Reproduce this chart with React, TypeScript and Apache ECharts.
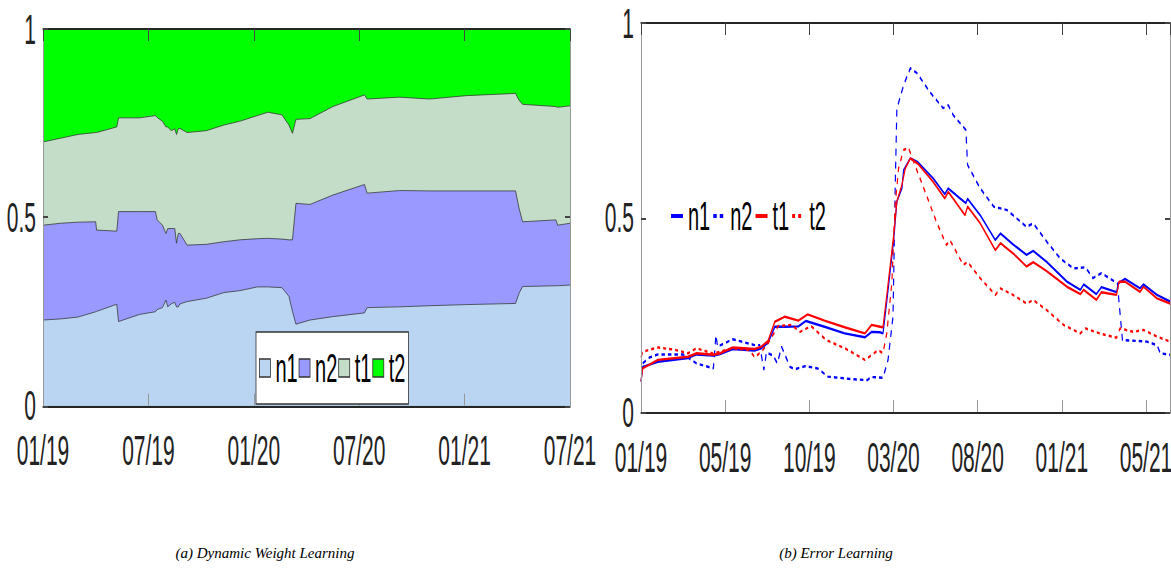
import React, { useEffect, useRef } from 'react';
import * as echarts from 'echarts';

// ---------- (a) Dynamic Weight Learning ----------
const leftTickLabels = ['01/19', '07/19', '01/20', '07/20', '01/21', '07/21'];
// months since 01/19
const leftMonths = [0, 1, 2, 3, 3.05, 4.2, 4.3, 5.5, 6.4, 6.5, 6.8, 7.0, 7.1, 7.3, 7.5, 7.6, 7.7, 7.8, 8.2, 9.3, 10.3, 11.2, 12.2, 12.8, 13.6, 14.0, 14.2, 14.4, 15.2, 16.5, 18.3, 18.45, 20.3, 22, 24.1, 26.9, 27.1, 27.3, 29.2, 29.3, 30];
// cumulative upper edges of each band
const n1Upper = [0.227, 0.23, 0.235, 0.249, 0.25, 0.269, 0.223, 0.242, 0.249, 0.255, 0.26, 0.28, 0.262, 0.27, 0.274, 0.262, 0.262, 0.27, 0.276, 0.285, 0.3, 0.305, 0.315, 0.315, 0.313, 0.29, 0.25, 0.216, 0.227, 0.236, 0.246, 0.26, 0.262, 0.265, 0.268, 0.271, 0.298, 0.316, 0.318, 0.318, 0.32];
const n2Upper = [0.479, 0.484, 0.487, 0.488, 0.466, 0.463, 0.515, 0.515, 0.515, 0.493, 0.479, 0.457, 0.47, 0.47, 0.47, 0.431, 0.457, 0.457, 0.426, 0.428, 0.435, 0.44, 0.443, 0.444, 0.442, 0.44, 0.44, 0.537, 0.534, 0.559, 0.587, 0.564, 0.571, 0.57, 0.57, 0.57, 0.524, 0.488, 0.493, 0.479, 0.484];
const t1Upper = [0.70, 0.71, 0.72, 0.725, 0.725, 0.74, 0.764, 0.764, 0.77, 0.765, 0.755, 0.74, 0.74, 0.73, 0.735, 0.72, 0.735, 0.736, 0.725, 0.73, 0.745, 0.755, 0.77, 0.779, 0.772, 0.745, 0.723, 0.76, 0.762, 0.794, 0.825, 0.814, 0.819, 0.814, 0.823, 0.829, 0.811, 0.80, 0.794, 0.792, 0.796];
const totalWeight = 1; // t2 band always reaches the total

const weightNames = ['n1', 'n2', 't1', 't2'];
const weightColors = ['#BAD5F2', '#9999FF', '#C3DDC8', '#00FF00'];

// ---------- (b) Error Learning ----------
const rightTickLabels = ['01/19', '05/19', '10/19', '03/20', '08/20', '01/21', '05/21'];
const rightMax = 6.285; // in tick units
const n1Err = [[0.0, 0.078], [0.02, 0.116], [0.2, 0.129], [0.56, 0.139], [0.66, 0.148], [0.86, 0.145], [0.94, 0.149], [1.09, 0.162], [1.35, 0.158], [1.43, 0.164], [1.51, 0.178], [1.59, 0.219], [1.71, 0.219], [1.87, 0.22], [1.96, 0.234], [2.18, 0.219], [2.42, 0.202], [2.66, 0.192], [2.74, 0.206], [2.84, 0.205], [2.875, 0.202], [2.92, 0.284], [3.0, 0.438], [3.04, 0.541], [3.1, 0.575], [3.12, 0.622], [3.2, 0.652], [3.29, 0.642], [3.47, 0.601], [3.61, 0.56], [3.65, 0.575], [3.79, 0.549], [3.86, 0.537], [3.88, 0.548], [4.03, 0.506], [4.21, 0.442], [4.27, 0.459], [4.42, 0.431], [4.58, 0.404], [4.66, 0.414], [4.82, 0.386], [5.06, 0.335], [5.22, 0.314], [5.26, 0.328], [5.41, 0.303], [5.47, 0.321], [5.65, 0.308], [5.67, 0.331], [5.75, 0.342], [5.93, 0.318], [5.97, 0.328], [6.13, 0.301], [6.285, 0.284]];
const n2Err = [[0.02, 0.125], [0.1, 0.14], [0.2, 0.148], [0.5, 0.148], [0.66, 0.125], [0.86, 0.112], [0.89, 0.198], [0.91, 0.168], [1.09, 0.187], [1.35, 0.172], [1.41, 0.172], [1.46, 0.108], [1.49, 0.153], [1.57, 0.145], [1.62, 0.125], [1.67, 0.168], [1.77, 0.116], [1.83, 0.11], [1.95, 0.118], [2.1, 0.112], [2.22, 0.091], [2.53, 0.084], [2.69, 0.082], [2.73, 0.09], [2.875, 0.088], [2.935, 0.134], [2.994, 0.245], [3.02, 0.575], [3.04, 0.78], [3.12, 0.84], [3.2, 0.884], [3.28, 0.871], [3.43, 0.823], [3.59, 0.781], [3.65, 0.789], [3.71, 0.763], [3.86, 0.725], [3.88, 0.635], [4.03, 0.575], [4.19, 0.528], [4.35, 0.519], [4.58, 0.476], [4.66, 0.485], [4.82, 0.438], [4.98, 0.395], [5.14, 0.369], [5.28, 0.372], [5.37, 0.344], [5.47, 0.357], [5.63, 0.335], [5.66, 0.33], [5.72, 0.185], [6.01, 0.181], [6.13, 0.172], [6.17, 0.151], [6.285, 0.147]];
const t1Err = [[0.0, 0.078], [0.02, 0.112], [0.2, 0.134], [0.56, 0.142], [0.66, 0.151], [0.86, 0.147], [0.94, 0.151], [1.09, 0.166], [1.35, 0.162], [1.43, 0.168], [1.51, 0.183], [1.59, 0.232], [1.71, 0.245], [1.87, 0.235], [1.98, 0.251], [2.18, 0.235], [2.42, 0.218], [2.66, 0.202], [2.74, 0.224], [2.84, 0.219], [2.875, 0.218], [2.92, 0.30], [3.0, 0.451], [3.04, 0.541], [3.1, 0.584], [3.14, 0.626], [3.2, 0.652], [3.29, 0.638], [3.47, 0.592], [3.61, 0.549], [3.65, 0.566], [3.85, 0.506], [3.88, 0.528], [4.03, 0.485], [4.21, 0.416], [4.27, 0.434], [4.42, 0.408], [4.58, 0.374], [4.66, 0.385], [4.82, 0.362], [5.06, 0.322], [5.22, 0.303], [5.26, 0.314], [5.41, 0.288], [5.47, 0.308], [5.65, 0.301], [5.68, 0.335], [5.75, 0.335], [5.93, 0.309], [5.97, 0.322], [6.13, 0.292], [6.285, 0.279]];
const t2Err = [[0.0, 0.14], [0.02, 0.155], [0.2, 0.166], [0.4, 0.16], [0.56, 0.151], [0.66, 0.164], [0.86, 0.15], [1.09, 0.164], [1.29, 0.159], [1.35, 0.141], [1.43, 0.155], [1.51, 0.177], [1.63, 0.221], [1.79, 0.224], [1.89, 0.206], [2.02, 0.221], [2.2, 0.185], [2.42, 0.164], [2.66, 0.134], [2.82, 0.159], [2.875, 0.151], [2.92, 0.202], [2.98, 0.331], [3.02, 0.532], [3.06, 0.626], [3.12, 0.674], [3.18, 0.678], [3.24, 0.643], [3.39, 0.558], [3.51, 0.489], [3.63, 0.429], [3.67, 0.442], [3.83, 0.378], [3.88, 0.386], [4.03, 0.344], [4.21, 0.301], [4.27, 0.318], [4.42, 0.301], [4.58, 0.279], [4.66, 0.288], [4.82, 0.262], [5.02, 0.224], [5.22, 0.202], [5.28, 0.215], [5.45, 0.202], [5.65, 0.191], [5.69, 0.215], [5.85, 0.206], [5.97, 0.211], [6.13, 0.194], [6.285, 0.181]];

const captions = ['(a) Dynamic Weight Learning', '(b) Error Learning'];

const FONT = '"Liberation Sans", Arial, Helvetica, sans-serif';
const tickText = { fontFamily: FONT, fontSize: 21, color: '#222' };

function buildOption() {
  const bandTops = [n1Upper, n2Upper, t1Upper, leftMonths.map(() => totalWeight)];

  const xBase = (grid: number, max: number, interval: number, labels: string[] | null, top: boolean) => ({
    gridIndex: grid,
    type: 'value',
    min: 0,
    max,
    interval,
    position: top ? 'top' : 'bottom',
    axisLine: { show: true, onZero: false, lineStyle: { color: '#262626', width: 1 } },
    axisTick: { show: true, inside: true, length: 6, lineStyle: { color: top ? '#444' : '#999', width: 1 } },
    axisLabel: labels
      ? {
          ...tickText,
          margin: 12,
          showMinLabel: true,
          showMaxLabel: true,
          formatter: (v: number) => {
            const k = Math.round(v / interval);
            return Math.abs(v - k * interval) < 1e-6 && labels[k] ? labels[k] : '';
          },
        }
      : { show: false },
    splitLine: { show: false },
    z: 5,
  });

  const yBase = (grid: number, right: boolean) => ({
    gridIndex: grid,
    type: 'value',
    min: 0,
    max: 1,
    interval: 0.5,
    position: right ? 'right' : 'left',
    axisLine: { show: true, onZero: false, lineStyle: { color: '#999', width: 1 } },
    axisTick: { show: true, inside: true, length: 5, lineStyle: { color: '#444', width: 1 } },
    axisLabel: right ? { show: false } : { ...tickText, margin: 7, lineHeight: 18 },
    splitLine: { show: false },
    z: 5,
  });

  // draw the top band first; each later band covers the lower part of the previous one
  const leftSeries = [3, 2, 1, 0].map((s) => ({
    name: weightNames[s],
    type: 'line',
    xAxisIndex: 0,
    yAxisIndex: 0,
    data: leftMonths.map((m, i) => [m, bandTops[s][i]]),
    symbol: 'none',
    showSymbol: false,
    color: weightColors[s],
    lineStyle: { color: '#333', width: 0.5 },
    areaStyle: { color: weightColors[s], opacity: 1, origin: 'start' },
    z: 2,
  }));

  const errDefs = [
    { name: 'n1 ', data: n1Err, color: '#0000FF', type: 'solid' },
    { name: 'n2 ', data: n2Err, color: '#0000FF', type: [3.5, 3] },
    { name: 't1 ', data: t1Err, color: '#FF0000', type: 'solid' },
    { name: 't2 ', data: t2Err, color: '#FF0000', type: [3, 3] },
  ];
  const rightSeries = errDefs.map((d) => ({
    name: d.name,
    type: 'line',
    xAxisIndex: 2,
    yAxisIndex: 2,
    data: d.data,
    symbol: 'none',
    showSymbol: false,
    color: d.color,
    lineStyle: { color: d.color, width: 1.2, type: d.type },
    z: 3,
  }));

  return {
    animation: false,
    backgroundColor: '#fff',
    grid: [
      { left: 43, top: 14.5, width: 527, height: 188.25, containLabel: false, outerBoundsMode: 'none' },
      { left: 641, top: 11.5, width: 529, height: 194.5, containLabel: false, outerBoundsMode: 'none' },
    ],
    xAxis: [
      xBase(0, 30, 6, leftTickLabels, false),
      xBase(0, 30, 6, null, true),
      xBase(1, rightMax, 1, rightTickLabels, false),
      xBase(1, rightMax, 1, null, true),
    ],
    yAxis: [yBase(0, false), yBase(0, true), yBase(1, false), yBase(1, true)],
    legend: [
      {
        data: weightNames,
        left: 256,
        top: 166,
        orient: 'horizontal',
        icon: 'rect',
        itemWidth: 11,
        itemHeight: 9,
        itemGap: 1,
        padding: [8, 3],
        backgroundColor: '#fff',
        borderColor: '#333',
        borderWidth: 0.8,
        itemStyle: { borderColor: '#333', borderWidth: 0.8 },
        textStyle: { fontFamily: FONT, fontSize: 20, color: '#000' },
        selectedMode: false,
        z: 10,
      },
      {
        data: errDefs.map((d) => d.name),
        left: 670,
        top: 98,
        orient: 'horizontal',
        itemWidth: 12,
        itemHeight: 10,
        itemGap: 2,
        padding: 0,
        itemStyle: { opacity: 0 },
        textStyle: { fontFamily: FONT, fontSize: 20, color: '#000' },
        formatter: (n: string) => n.trim(),
        selectedMode: false,
        z: 10,
      },
    ],
    series: [...leftSeries, ...rightSeries],
  };
}

export default function App() {
  const chartRef = useRef<HTMLDivElement>(null);
  const capRef = useRef<HTMLDivElement>(null);

  useEffect(() => {
    if (!chartRef.current || !capRef.current) return;
    const chart = echarts.init(chartRef.current, undefined, { renderer: 'svg' });
    chart.setOption(buildOption() as any);

    const cap = echarts.init(capRef.current, undefined, { renderer: 'svg' });
    const capFont = 'italic 15px "Liberation Serif", "DejaVu Serif", serif';
    cap.setOption({
      animation: false,
      graphic: [
        {
          type: 'text',
          x: 265,
          y: 23,
          style: { text: captions[0], font: capFont, fill: '#000', textAlign: 'center', textVerticalAlign: 'middle' },
        },
        {
          type: 'text',
          x: 836,
          y: 23,
          style: { text: captions[1], font: capFont, fill: '#000', textAlign: 'center', textVerticalAlign: 'middle' },
        },
      ],
    });
    return () => {
      chart.dispose();
      cap.dispose();
    };
  }, []);

  return (
    <div style={{ position: 'absolute', left: 0, top: 0, width: 1171, height: 569, background: '#fff', overflow: 'hidden' }}>
      <div
        ref={chartRef}
        style={{ position: 'absolute', left: 0, top: 0, width: 1171, height: 245, transform: 'scaleY(2)', transformOrigin: '0 0' }}
      />
      <div ref={capRef} style={{ position: 'absolute', left: 0, top: 530, width: 1171, height: 39 }} />
    </div>
  );
}
